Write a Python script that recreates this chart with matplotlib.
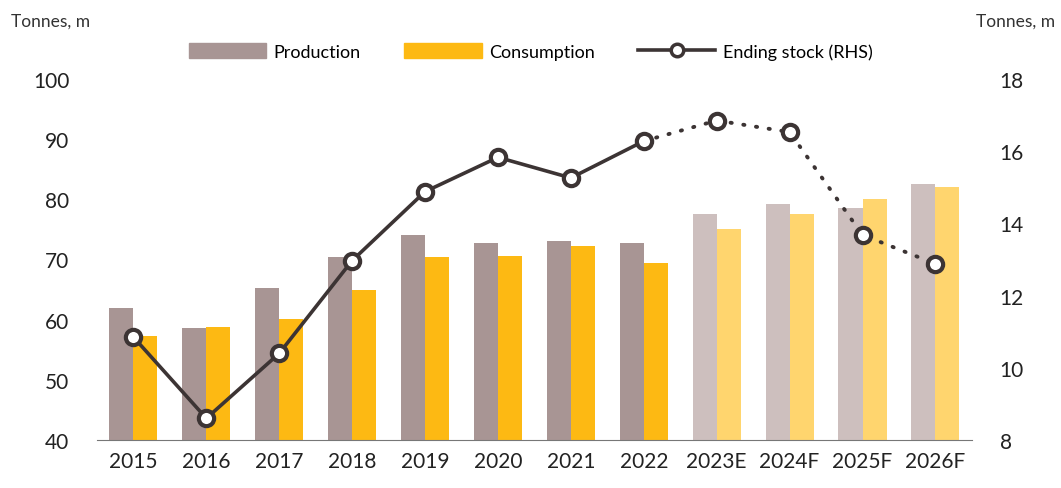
import numpy as np
import matplotlib.pyplot as plt
from matplotlib.lines import Line2D
from matplotlib.patches import Patch

plt.rcParams['font.family'] = ['Lato', 'DejaVu Sans']

years = ["2015", "2016", "2017", "2018", "2019", "2020", "2021", "2022",
         "2023E", "2024F", "2025F", "2026F"]
production = [62.0, 58.6, 65.3, 70.4, 74.1, 72.8, 73.0, 72.7, 77.6, 79.2, 78.5, 82.5]
consumption = [57.2, 58.8, 60.1, 64.9, 70.4, 70.6, 72.3, 69.4, 75.0, 77.6, 80.0, 82.0]
ending_stock = [10.85, 8.6, 10.4, 12.97, 14.88, 15.83, 15.26, 16.28, 16.85, 16.53, 13.68, 12.88]
n_actual = 8  # 2015-2022 are actuals, the rest are estimates/forecasts

prod_col = "#a89594"
prod_fc = "#cdbfbe"
cons_col = "#fdb913"
cons_fc = "#ffd56e"
line_col = "#3c3434"

fig = plt.figure(figsize=(10.61, 4.89), dpi=100)
ax = fig.add_axes([0.0914, 0.0982, 0.8246, 0.7382])
ax2 = ax.twinx()

x = np.arange(len(years))
w = 0.33
pc = [prod_col if i < n_actual else prod_fc for i in range(len(years))]
cc = [cons_col if i < n_actual else cons_fc for i in range(len(years))]
ax.bar(x - w / 2, production, w, color=pc, zorder=2)
ax.bar(x + w / 2, consumption, w, color=cc, zorder=2)

ax.set_ylim(40, 100)
ax.set_xlim(-0.5, 11.5)
ax.set_yticks(range(40, 101, 10))
ax.set_xticks(x)
ax.set_xticklabels(years)

ax2.set_ylim(8, 18)
ax2.set_yticks(range(8, 19, 2))

# solid line for actuals, dotted for forecasts
ax2.plot(x[:n_actual], ending_stock[:n_actual], color=line_col, lw=2.6, zorder=3)
ax2.plot(x[n_actual - 1:], ending_stock[n_actual - 1:], color=line_col, lw=2.8,
         ls=(0, (0.3, 3.0)), dash_capstyle="round", zorder=3)
ax2.plot(x, ending_stock, ls="none", marker="o", ms=11, mfc="white",
         mec=line_col, mew=3, zorder=4)

for a in (ax, ax2):
    for s in a.spines.values():
        s.set_visible(False)
    a.tick_params(length=0, labelsize=15, colors="#222222")
ax.spines["bottom"].set_visible(True)
ax.spines["bottom"].set_color("#777777")
ax.tick_params(axis="y", pad=20)
ax.tick_params(axis="x", pad=8)
ax2.tick_params(axis="y", pad=20)

fig.text(0.010, 0.955, "Tonnes, m", fontsize=12.5, color="#333333", va="center")
fig.text(0.994, 0.955, "Tonnes, m", fontsize=12.5, color="#333333", va="center", ha="right")

handles = [Patch(color=prod_col), Patch(color=cons_col),
           Line2D([], [], color=line_col, lw=2.6, marker="o", ms=9, mfc="white",
                  mec=line_col, mew=2.5)]
fig.legend(handles, ["Production", "Consumption", "Ending stock (RHS)"],
           loc="center", bbox_to_anchor=(0.50, 0.893), ncol=3, frameon=False,
           fontsize=13, handlelength=4.3, handleheight=0.9, handletextpad=0.4,
           columnspacing=2.4)

fig.savefig("out.png", dpi=100)
